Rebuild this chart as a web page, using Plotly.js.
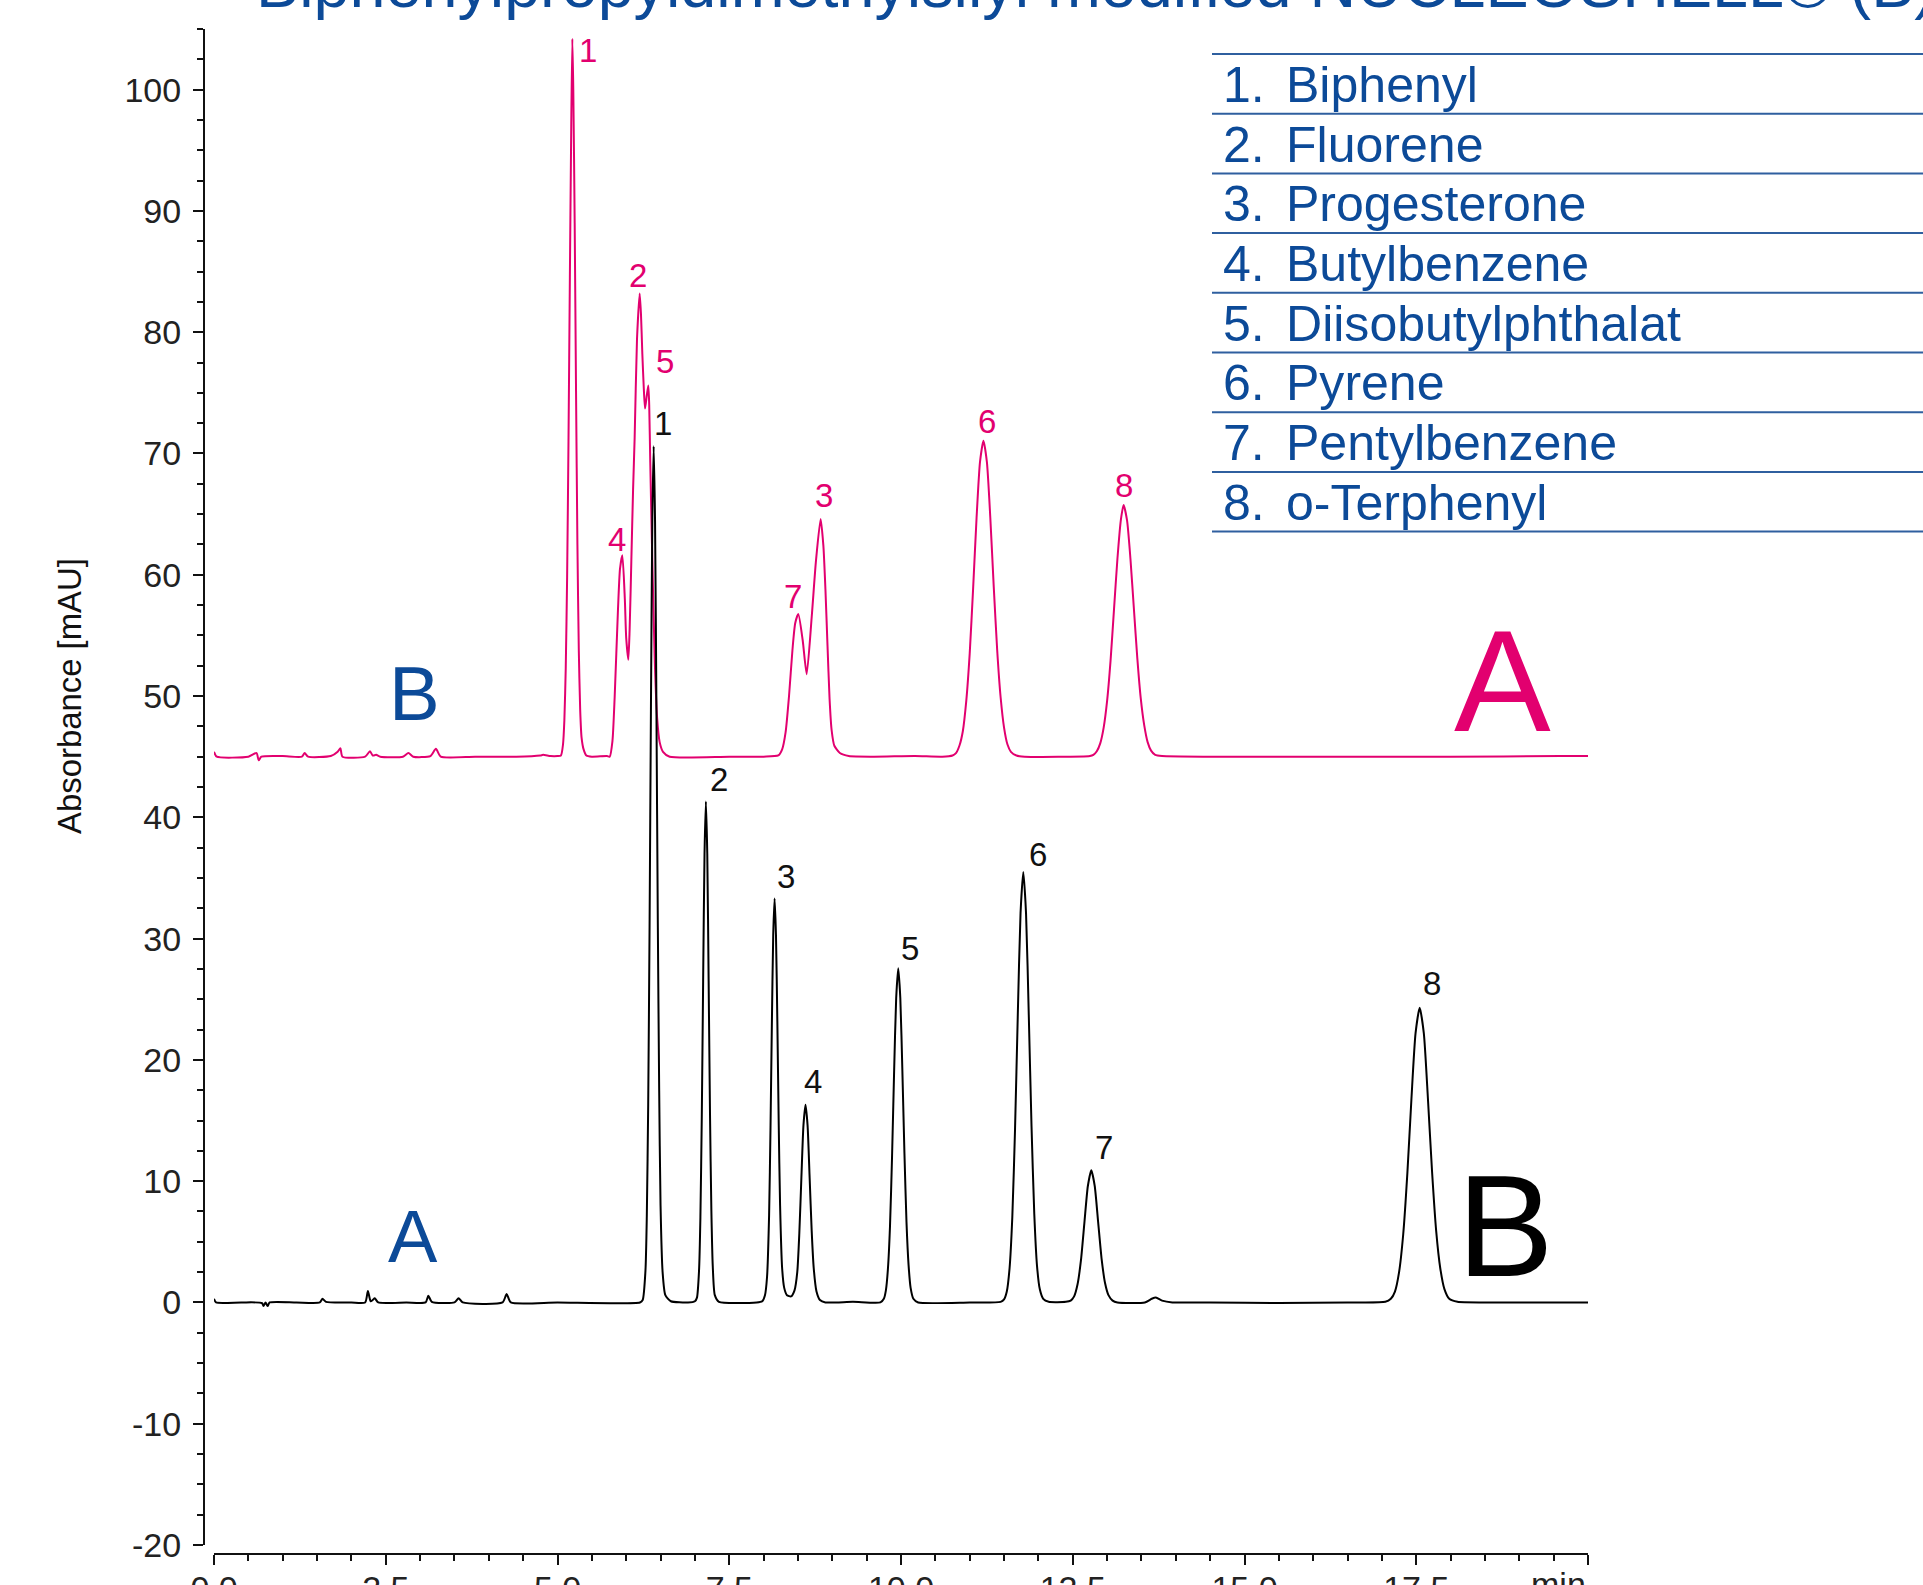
<!DOCTYPE html>
<html>
<head>
<meta charset="utf-8">
<script src="https://cdn.plot.ly/plotly-3.0.1.min.js"></script>
<style>html,body{margin:0;padding:0;background:#fff;}#chart{width:1923px;height:1585px;}</style>
</head>
<body>
<div id="chart"></div>
<script>
// ---------- data ----------
// Trace A (black, baseline 0 mAU): retention time [min] and absorbance [mAU]
const timeA = [
  0.00,0.03,0.40,0.70,0.72,0.75,0.78,0.81,1.20,1.54,1.58,1.63,2.00,2.20,2.24,2.28,2.31,2.34,2.39,2.80,3.08,3.12,3.17,3.50,3.56,3.62,4.20,4.26,4.32,5.00,6.20,
  6.24,6.28,6.30,6.32,6.34,6.36,6.38,6.40,6.42,6.44,6.46,6.48,6.50,6.53,6.57,6.65,6.90,
  7.00,7.03,7.06,7.08,7.10,7.12,7.14,7.16,7.18,7.20,7.22,7.24,7.26,7.29,7.35,7.90,
  7.98,8.02,8.05,8.08,8.10,8.12,8.14,8.16,8.18,8.20,8.22,8.24,8.27,8.30,8.34,8.40,8.45,8.49,8.52,8.55,8.58,8.61,8.64,8.67,8.70,8.73,8.77,8.82,8.90,9.30,9.70,
  9.75,9.78,9.81,9.84,9.87,9.90,9.93,9.96,9.99,10.02,10.05,10.08,10.11,10.14,10.18,10.25,11.00,11.45,
  11.50,11.54,11.58,11.62,11.66,11.70,11.74,11.78,11.82,11.86,11.90,11.94,11.98,12.02,12.07,12.15,12.40,
  12.47,12.52,12.57,12.62,12.67,12.72,12.77,12.82,12.87,12.92,12.97,13.02,13.08,13.15,13.55,13.65,13.71,13.80,13.95,14.50,15.50,16.50,17.05,
  17.13,17.19,17.25,17.31,17.37,17.43,17.49,17.55,17.61,17.67,17.73,17.79,17.85,17.91,17.98,18.10,18.50,19.50,20.00
];
const absA = [
  0.30,0.00,0.00,-0.05,-0.30,0.00,-0.30,0.00,0.00,0.00,0.30,0.05,0.00,0.00,0.95,0.10,0.20,0.35,0.00,0.00,0.00,0.55,0.05,0.00,0.35,0.00,0.00,0.70,0.00,0.00,0.00,
  0.2,2.6,7.1,16.2,30.9,48.9,64.4,70.6,64.4,48.9,31.5,17.5,8.0,2.5,0.6,0.1,0.0,
  0.1,0.4,2.6,7.0,15.2,26.5,37.0,41.3,37.0,26.5,15.5,7.5,3.0,0.6,0.05,0.0,
  0.1,0.6,2.1,7.2,14.2,22.8,30.3,33.3,30.3,23.2,14.8,8.0,2.8,1.2,0.6,0.5,1.0,2.5,5.7,10.3,14.6,16.3,14.6,10.3,5.9,2.8,0.9,0.2,0.0,0.05,0.0,
  0.3,1.0,2.8,6.3,12.1,19.1,25.1,27.55,25.1,19.1,12.3,6.6,3.1,1.2,0.3,0.0,0.0,0.05,
  0.25,0.9,2.8,7.0,14.3,23.7,32.1,35.5,32.1,23.7,14.5,7.3,3.0,1.1,0.3,0.05,0.05,
  0.15,0.5,1.5,3.5,6.6,9.6,10.9,9.6,6.6,3.6,1.6,0.6,0.15,0.0,0.0,0.3,0.4,0.15,0.0,0.0,-0.05,0.0,0.05,
  0.3,0.9,2.5,5.6,10.6,16.8,22.2,24.3,22.2,16.8,10.8,5.9,2.8,1.1,0.3,0.05,0.0,0.0,0.0
];
// Trace B (magenta, offset baseline 45 mAU)
const timeB = [
  0.00,0.04,0.50,0.62,0.65,0.69,1.00,1.28,1.32,1.37,1.70,1.80,1.84,1.87,2.20,2.27,2.31,2.36,2.42,2.75,2.83,2.90,3.15,3.23,3.30,3.80,4.40,4.75,4.79,4.90,5.00,
  5.05,5.08,5.10,5.12,5.14,5.16,5.18,5.20,5.216,5.23,5.25,5.27,5.29,5.31,5.33,5.35,5.38,5.42,5.50,5.72,
  5.76,5.80,5.832,5.88,5.91,5.944,5.98,6.00,6.031,6.05,6.075,6.10,6.123,6.157,6.196,6.215,6.235,6.255,6.274,6.30,6.322,6.335,6.35,6.38,6.415,6.45,6.487,6.536,6.633,7.50,
  8.00,8.214,8.27,8.32,8.37,8.42,8.46,8.505,8.569,8.627,8.70,8.763,8.83,8.87,8.90,8.93,8.96,8.99,9.03,9.11,9.24,9.60,10.20,10.60,10.75,
  10.80,10.85,10.90,10.95,11.00,11.05,11.10,11.15,11.20,11.25,11.30,11.35,11.40,11.45,11.50,11.55,11.60,11.68,11.80,
  12.75,12.80,12.85,12.90,12.95,13.00,13.05,13.10,13.15,13.20,13.24,13.29,13.34,13.39,13.44,13.49,13.54,13.59,13.64,13.70,13.80,14.50,16.00,18.00,19.60,20.00
];
const absB = [
  45.4,45.0,45.0,45.3,44.7,45.0,45.05,45.0,45.3,45.0,45.05,45.4,45.7,45.0,45.0,45.45,45.1,45.15,45.0,45.0,45.3,45.0,45.05,45.65,45.0,45.0,45.0,45.1,45.15,45.05,45.05,
  45.1,46.0,48.0,52.3,59.8,71.0,84.5,97.0,104.2,100.0,89.0,75.0,62.5,53.8,48.9,46.6,45.6,45.1,45.0,45.05,
  45.0,46.3,49.9,57.1,60.5,61.6,58.0,54.8,53.0,55.5,61.2,67.0,71.3,79.4,83.2,81.5,78.2,75.5,73.7,74.8,75.6,74.0,69.3,61.2,53.1,48.2,46.2,45.4,45.0,45.0,
  45.0,45.1,45.6,47.0,50.0,53.8,56.0,56.76,54.6,51.8,56.5,61.2,64.6,62.4,58.8,54.2,49.8,47.2,45.9,45.3,45.05,45.0,45.05,45.0,45.1,
  45.3,45.9,47.1,49.6,53.5,58.9,64.7,69.3,71.05,69.3,64.7,59.0,53.8,49.9,47.4,46.0,45.4,45.1,45.0,
  45.05,45.15,45.45,46.1,47.4,49.6,52.9,57.1,61.3,64.5,65.75,64.5,61.3,57.2,53.1,49.8,47.6,46.2,45.5,45.15,45.05,45.0,45.0,45.0,45.05,45.05
];
// Peak number labels
const peakLabelsA = ['1','2','3','4','5','6','7','8'];
const peakLabelXA = [6.54,7.35,8.33,8.72,10.13,11.99,12.95,17.73];
const peakLabelYA = [72.5,43.1,35.1,18.2,29.2,36.9,12.8,26.3];
const peakLabelsB = ['1','4','2','5','7','3','6','8'];
const peakLabelXB = [5.44,5.86,6.17,6.56,8.43,8.88,11.25,13.24];
const peakLabelYB = [103.2,62.9,84.7,77.6,58.2,66.5,72.6,67.4];
// Compound list
const compounds = ['Biphenyl','Fluorene','Progesterone','Butylbenzene','Diisobutylphthalat','Pyrene','Pentylbenzene','o-Terphenyl'];
// Axis ticks
const xTickVals = [0,2.5,5,7.5,10,12.5,15,17.5,20];
const xTickText = ['0.0','2.5','5.0','7.5','10.0','12.5','15.0','17.5',''];
const xUnitText = 'min';
const yTickVals = [-20,-10,0,10,20,30,40,50,60,70,80,90,100];
const yTickText = ['-20','-10','0','10','20','30','40','50','60','70','80','90','100'];
const titleText = 'Biphenylpropyldimethylsilyl modified NUCLEOSHELL® (B)';

// ---------- styling / layout ----------
const MAGENTA = '#e2006f';
const BLUE = '#0c4a98';
const LINEBLUE = '#2f5f9f';
const BASEFONT = "'Liberation Sans', Arial, sans-serif";

const ctx = document.createElement('canvas').getContext('2d');
function fitSize(text, family, target, maxSize) {
  ctx.font = '100px ' + family;
  const w = ctx.measureText(text).width;
  return Math.min(maxSize, 100 * target / w);
}

const W = 1923, H = 1585;
const padL = 204, padR = 1588, padT = 29, padB = 1554;
const pw = padR - padL, ph = padB - padT;
const px = x => (x - padL) / pw;
const py = y => (padB - y) / ph;

const annotations = [];
peakLabelsA.forEach((t, i) => annotations.push({
  x: peakLabelXA[i], y: peakLabelYA[i], xref: 'x', yref: 'y', text: t, showarrow: false,
  xanchor: 'center', yanchor: 'middle', font: {family: BASEFONT, size: 33, color: '#111'}
}));
peakLabelsB.forEach((t, i) => annotations.push({
  x: peakLabelXB[i], y: peakLabelYB[i], xref: 'x', yref: 'y', text: t, showarrow: false,
  xanchor: 'center', yanchor: 'middle', font: {family: BASEFONT, size: 33, color: MAGENTA}
}));
// trace tags
annotations.push({x: 2.92, y: 50.25, xref: 'x', yref: 'y', text: 'B', showarrow: false, xanchor: 'center', yanchor: 'middle', font: {family: BASEFONT, size: 76, color: BLUE}});
annotations.push({x: 2.90, y: 5.46, xref: 'x', yref: 'y', text: 'A', showarrow: false, xanchor: 'center', yanchor: 'middle', font: {family: BASEFONT, size: 74, color: BLUE}});
annotations.push({x: 18.75, y: 51.2, xref: 'x', yref: 'y', text: 'A', showarrow: false, xanchor: 'center', yanchor: 'middle', font: {family: BASEFONT, size: 145, color: MAGENTA}});
annotations.push({x: 18.80, y: 6.3, xref: 'x', yref: 'y', text: 'B', showarrow: false, xanchor: 'center', yanchor: 'middle', font: {family: BASEFONT, size: 145, color: '#000'}});

// x unit label ("min"), right-aligned at the end of the time axis like the reference
annotations.push({x: 20, y: py(1563), xref: 'x', yref: 'paper', text: xUnitText, showarrow: false,
  xanchor: 'right', yanchor: 'top', font: {family: BASEFONT, size: 34, color: '#222'}});

// y-axis title
const ytSize = fitSize('Absorbance [mAU]', BASEFONT, 276, 34);
annotations.push({x: px(70), y: py(696), xref: 'paper', yref: 'paper', text: 'Absorbance [mAU]', textangle: -90,
  showarrow: false, xanchor: 'center', yanchor: 'middle', font: {family: BASEFONT, size: ytSize, color: '#111'}});

// chart title (cut by the top edge as in the reference)
const tSize = fitSize(titleText, BASEFONT, 1680, 72);
annotations.push({x: px(254), y: py(8.5 + 0.212 * tSize + 1), xref: 'paper', yref: 'paper', text: titleText,
  showarrow: false, xanchor: 'left', yanchor: 'bottom', font: {family: BASEFONT, size: tSize, color: BLUE}});

// compound table
const legTop = 54, rowH = 59.7;
const legSize = fitSize('Diisobutylphthalat', BASEFONT, 395, 52);
const shapes = [];
for (let i = 0; i <= compounds.length; i++) {
  const yy = py(legTop + i * rowH);
  shapes.push({type: 'line', xref: 'paper', yref: 'paper', x0: px(1212), x1: px(1923), y0: yy, y1: yy,
    line: {color: LINEBLUE, width: 2}});
}
compounds.forEach((c, i) => {
  const yc = py(legTop + (i + 0.5) * rowH + 1);
  annotations.push({x: px(1221), y: yc, xref: 'paper', yref: 'paper', text: (i + 1) + '.', showarrow: false,
    xanchor: 'left', yanchor: 'middle', font: {family: BASEFONT, size: legSize, color: BLUE}});
  annotations.push({x: px(1284), y: yc, xref: 'paper', yref: 'paper', text: c, showarrow: false,
    xanchor: 'left', yanchor: 'middle', font: {family: BASEFONT, size: legSize, color: BLUE}});
});

const traces = [
  {x: timeB, y: absB, type: 'scatter', mode: 'lines', line: {color: MAGENTA, width: 2, shape: 'spline', smoothing: 0.6}, hoverinfo: 'skip'},
  {x: timeA, y: absA, type: 'scatter', mode: 'lines', line: {color: '#000', width: 2, shape: 'spline', smoothing: 0.6}, hoverinfo: 'skip'}
];

const axisCommon = {
  showgrid: false, zeroline: false, showline: true, linecolor: '#111', linewidth: 2,
  ticks: 'outside', ticklen: 10, tickwidth: 2, tickcolor: '#111',
  tickfont: {family: BASEFONT, size: 34, color: '#222'}, anchor: 'free', position: 0, fixedrange: true
};

const layout = {
  width: W, height: H,
  margin: {l: padL, r: W - padR, t: padT, b: H - padB, pad: 0},
  paper_bgcolor: '#fff', plot_bgcolor: '#fff', showlegend: false,
  xaxis: Object.assign({}, axisCommon, {
    domain: [10 / pw, 1], range: [0, 20], tickmode: 'array', tickvals: xTickVals, ticktext: xTickText,
    ticklabelstandoff: -6,
    minor: {tick0: 0, dtick: 0.5, ticks: 'outside', ticklen: 6, tickwidth: 2, tickcolor: '#111', showgrid: false}
  }),
  yaxis: Object.assign({}, axisCommon, {
    domain: [9 / ph, 1], range: [-20, 105], tickmode: 'array', tickvals: yTickVals, ticktext: yTickText,
    ticklabelstandoff: 5,
    minor: {tick0: 0, dtick: 2.5, ticks: 'outside', ticklen: 6, tickwidth: 2, tickcolor: '#111', showgrid: false}
  }),
  annotations: annotations,
  shapes: shapes
};

Plotly.newPlot('chart', traces, layout, {displayModeBar: false, staticPlot: true});
</script>
</body>
</html>
